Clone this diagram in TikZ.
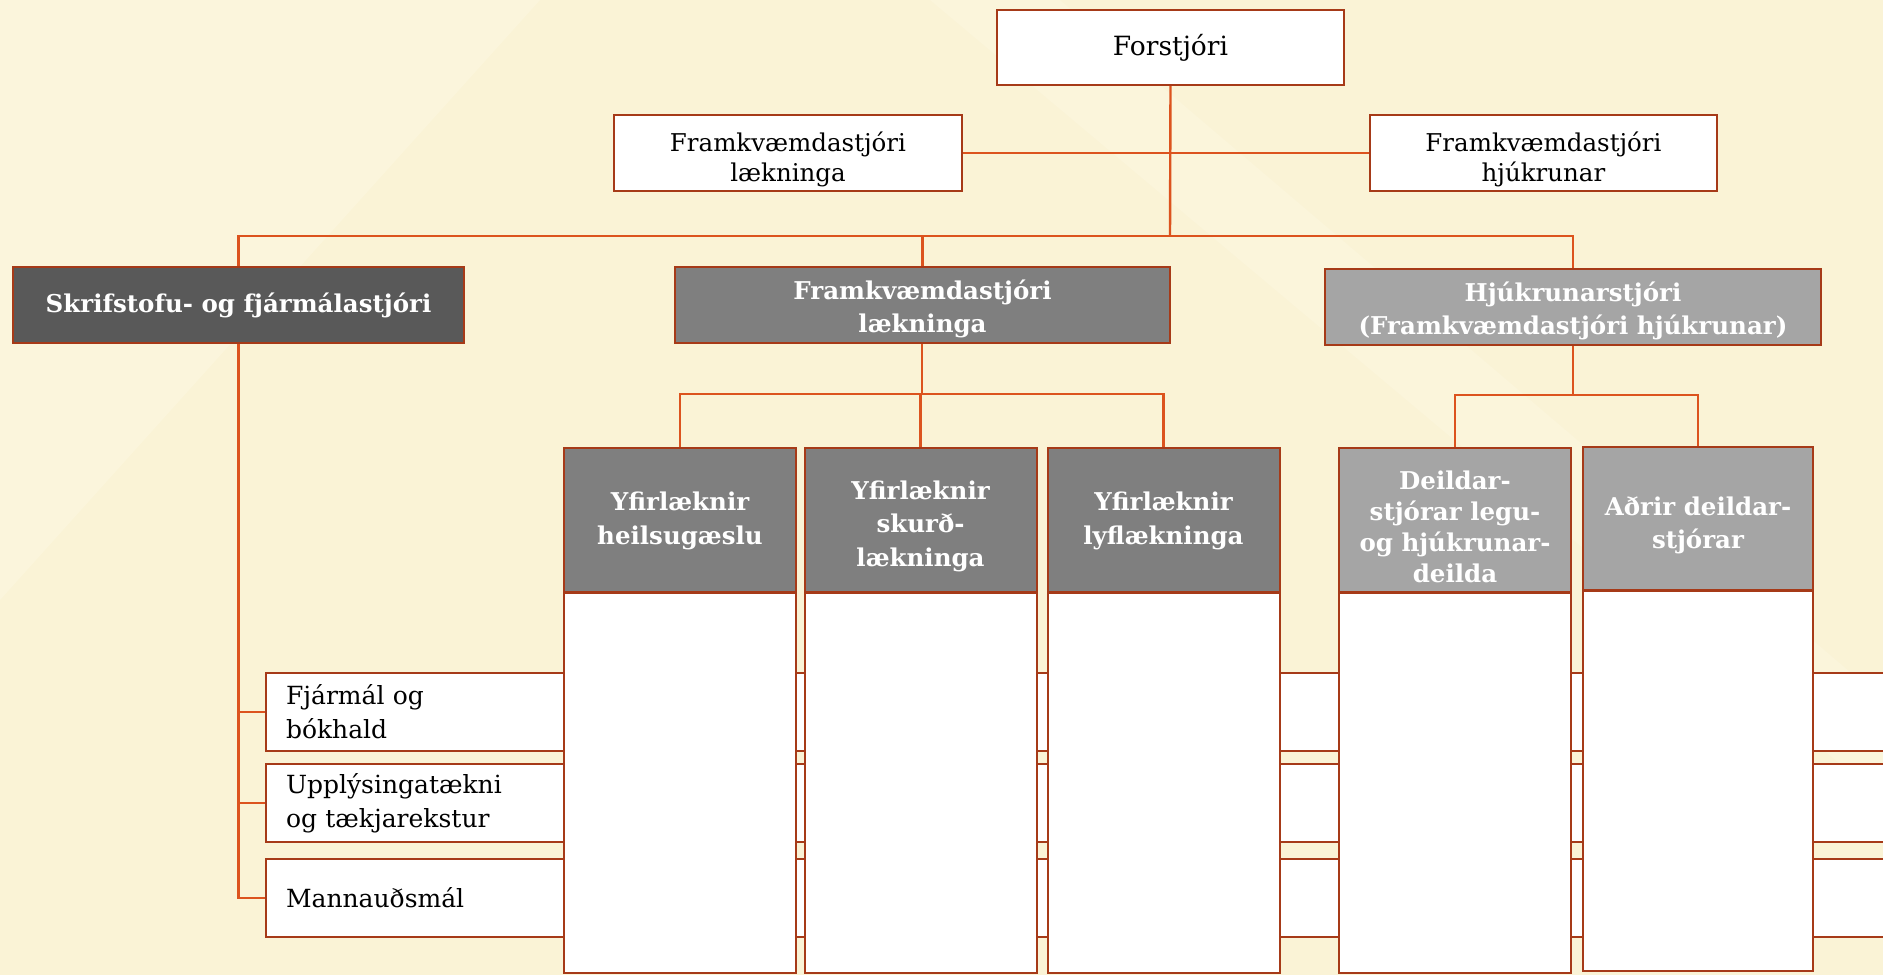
\documentclass[tikz,border=0pt]{standalone}
\usepackage{fontspec}
\setmainfont{DejaVu Serif}
\newcommand{\dn}[1]{\rule{0pt}{\dimexpr18.6pt+#1*2\relax}}
\definecolor{bgcream}{RGB}{250,243,214}
\definecolor{bglight}{RGB}{252,247,224}
\definecolor{conncol}{RGB}{220,83,30}
\definecolor{bordcol}{RGB}{166,58,24}
\definecolor{gdark}{RGB}{89,89,89}
\definecolor{gmid}{RGB}{127,127,127}
\definecolor{glight}{RGB}{165,165,165}
\tikzset{
  conn/.style={draw=conncol, line width=2.4pt},
  wbox/.style={draw=bordcol, line width=2pt, fill=white, inner sep=0pt, align=center},
  gbox/.style={draw=bordcol, line width=2pt, inner sep=0pt, align=center, text=white, font=\bfseries\fontsize{24.5}{33.5}\selectfont},
  colbody/.style={draw=bordcol, line width=2pt, fill=white, inner sep=0pt, minimum width=232pt, minimum height=380pt, anchor=north},
  rowbox/.style={draw=bordcol, line width=2pt, fill=white, inner xsep=20pt, inner ysep=0pt, text width=1595pt, align=left, minimum height=78pt, anchor=north west, font=\fontsize{25}{34}\selectfont},
}
\begin{document}
\begin{tikzpicture}[x=1pt,y=-1pt]
\useasboundingbox (0,0) rectangle (1883,975);
\clip (0,0) rectangle (1883,975);
\fill[bgcream] (0,0) rectangle (1883,975);
\fill[bglight, opacity=0.6] (0,0) -- (540,0) -- (0,600) -- cycle;
\fill[bglight, opacity=0.5] (930,0) -- (1060,0) -- (1883,700) -- (1883,800) -- cycle;

% top level
\node[wbox, minimum width=347pt, minimum height=75pt, font=\fontsize{26.5}{30}\selectfont] (forst) at (1170.5,47.5) {Forstjóri};
\node[wbox, minimum width=348pt, minimum height=76pt, font=\fontsize{24.5}{30}\selectfont] (fl) at (788,153) {\dn{7pt}Framkvæmdastjóri\\lækninga};
\node[wbox, minimum width=347pt, minimum height=76pt, font=\fontsize{24.5}{30}\selectfont] (fh) at (1543.5,153) {\dn{7pt}Framkvæmdastjóri\\hjúkrunar};
\coordinate (bus) at (1170,236);

% second level
\node[gbox, fill=gdark, minimum width=451pt, minimum height=76pt] (skrif) at (238.5,305) {Skrifstofu- og fjármálastjóri};
\node[gbox, fill=gmid, minimum width=495pt, minimum height=76pt] (framk) at (922.5,305) {\dn{4.5pt}Framkvæmdastjóri\\lækninga};
\node[gbox, fill=glight, minimum width=496pt, minimum height=76pt] (hjuk) at (1573,307) {\dn{4.5pt}Hjúkrunarstjóri\\(Framkvæmdastjóri hjúkrunar)};

% rows (behind columns)
\node[rowbox] (r1) at (265,672) {Fjármál og\\bókhald};
\node[rowbox] (r2) at (265,763) {Upplýsingatækni\\og tækjarekstur};
\node[rowbox] (r3) at (265,858) {Mannauðsmál};

% columns
\node[colbody] (b1) at (680,592) {};
\node[colbody] (b2) at (920.5,592) {};
\node[colbody] (b3) at (1163.5,592) {};
\node[colbody] (b4) at (1455,592) {};
\node[colbody, minimum width=230pt] (b5) at (1698,590) {};
\node[gbox, fill=gmid, minimum width=232pt, minimum height=144pt] (y1) at (680,520) {\dn{1pt}Yfirlæknir\\heilsugæslu};
\node[gbox, fill=gmid, minimum width=232pt, minimum height=144pt] (y2) at (920.5,520) {\dn{6pt}Yfirlæknir\\skurð-\\lækninga};
\node[gbox, fill=gmid, minimum width=232pt, minimum height=144pt] (y3) at (1163.5,520) {\dn{1pt}Yfirlæknir\\lyflækninga};
\node[gbox, fill=glight, minimum width=232pt, minimum height=144pt, font=\bfseries\fontsize{24.5}{31}\selectfont] (d1) at (1455,520) {\dn{7pt}Deildar-\\stjórar legu-\\og hjúkrunar-\\deilda};
\node[gbox, fill=glight, minimum width=230pt, minimum height=143pt] (d2) at (1698,518.5) {\dn{7pt}Aðrir deildar-\\stjórar};

% connectors
\draw[conn] (fl.east) -- (fh.west);
\draw[conn] (forst.south) -- (bus);
\draw[conn] (skrif.north) |- (bus) -| (hjuk.north);
\draw[conn] (framk.north) -- (framk.north |- bus);
\coordinate (bus2) at (922,394);
\draw[conn] (framk.south -| bus2) -- (bus2);
\draw[conn] (y1.north) |- (bus2) -| (y3.north);
\draw[conn] (y2.north) -- (y2.north |- bus2);
\coordinate (bus3) at (1573,395);
\draw[conn] (hjuk.south) -- (bus3);
\draw[conn] (d1.north) |- (bus3) -| (d2.north);
\draw[conn] (skrif.south) |- (r3.west);
\draw[conn] (skrif.south |- r1.west) -- (r1.west);
\draw[conn] (skrif.south |- r2.west) -- (r2.west);
\end{tikzpicture}
\end{document}
